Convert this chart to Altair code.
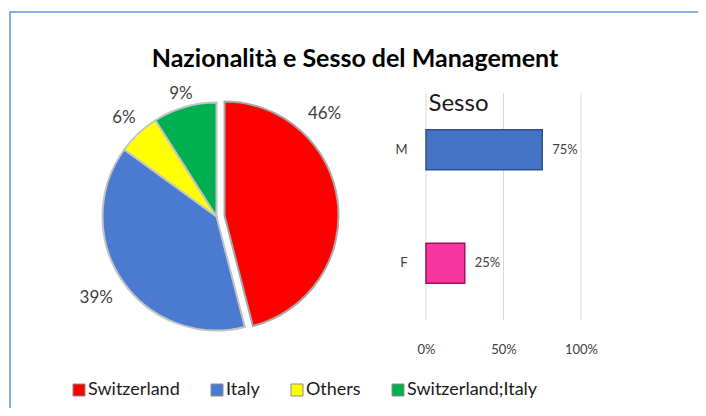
import altair as alt
import pandas as pd

# ---- data ----
nat_names = ["Switzerland", "Italy", "Others", "Switzerland;Italy"]
nat_values = [46, 39, 6, 9]
nat_colors = ["#ff0000", "#4a7bd0", "#ffff00", "#00b050"]

sex_names = ["M", "F"]
sex_values = [0.75, 0.25]
sex_colors = ["#4472c4", "#f7359e"]
sex_strokes = ["#2f528f", "#9c1060"]

x_ticks = [0, 0.5, 1.0]

title_text = "Nazionalità e Sesso del Management"
bar_title = "Sesso"

nat_df = pd.DataFrame({"country": nat_names, "value": nat_values,
                       "order": list(range(len(nat_names)))})
sex_df = pd.DataFrame({"sex": sex_names, "share": sex_values})
grid_df = pd.DataFrame({"share": x_ticks})

# ---- layout constants ----
CX, CY = 206.5, 204.5
R = 114
EXPLODE_X, EXPLODE_Y = 8, -1
FONT = "Lato"

theta_scale = alt.Scale(domain=[0, 100], range=[0, 6.283185307179586])
color_scale = alt.Scale(domain=nat_names, range=nat_colors)

base_pie = alt.Chart(nat_df).transform_window(
    end="sum(value)", sort=[alt.SortField("order")], frame=[None, 0]
).transform_calculate(
    start="datum.end - datum.value",
    mid="datum.end - datum.value / 2",
    label="format(datum.value, 'd') + '%'",
).transform_calculate(
    lab_t="datum.order == 0 ? datum.start + datum.value * 0.27 : datum.mid",
).transform_calculate(
    lab_s="sin(datum.lab_t / 100 * 2 * PI)",
    lab_c="cos(datum.lab_t / 100 * 2 * PI)",
    hw="length(datum.label) * 5 + 1",
).transform_calculate(
    lab_r="118 + abs(datum.lab_s) * datum.hw * 1.9 + abs(datum.lab_c) * 4",
)

legend = alt.Legend(
    title=None, orient="none", legendX=60, legendY=369, direction="horizontal",
    symbolType="square", symbolSize=144, symbolStrokeColor="#8c8c8c",
    symbolStrokeWidth=1, labelFontSize=18, labelFont=FONT, labelColor="#1a1a1a",
    labelOffset=0, columnPadding=28,
)

arc_enc = dict(
    theta=alt.Theta("start:Q", scale=theta_scale),
    theta2="end:Q",
    color=alt.Color("country:N", scale=color_scale, legend=legend),
)

arcs_rest = base_pie.transform_filter("datum.order != 0").mark_arc(
    radius=R, stroke="#c4c4c4", strokeWidth=2
).encode(x=alt.value(CX), y=alt.value(CY), **arc_enc)

arcs_first = base_pie.transform_filter("datum.order == 0").mark_arc(
    radius=R, stroke="#a8a8a8", strokeWidth=2
).encode(x=alt.value(CX + EXPLODE_X), y=alt.value(CY + EXPLODE_Y), **arc_enc)

lab_enc = dict(
    theta=alt.Theta("lab_t:Q", scale=theta_scale),
    radius=alt.Radius("lab_r:Q", scale=None),
    text="label:N",
)
lab_style = dict(fontSize=17, font=FONT, color="#404040", align="center", baseline="middle")

labels_rest = base_pie.transform_filter("datum.order != 0").mark_text(**lab_style).encode(
    x=alt.value(CX), y=alt.value(CY), **lab_enc)
labels_first = base_pie.transform_filter("datum.order == 0").mark_text(**lab_style).encode(
    x=alt.value(CX + EXPLODE_X), y=alt.value(CY + EXPLODE_Y), **lab_enc)

# ---- bar panel ----
x_scale = alt.Scale(domain=[0, 1], range=[416, 571], nice=False)
y_scale = alt.Scale(domain=sex_names, range=[81, 308], paddingInner=0, paddingOuter=0)

x_axis = alt.Axis(
    values=x_ticks, format="%", grid=False, domain=False, ticks=False,
    offset=-102, labelPadding=13, labelFontSize=13, labelFont=FONT,
    labelColor="#404040", labelFlush=False, title=None, orient="bottom")
y_axis = alt.Axis(
    domain=False, ticks=False, grid=False, offset=-416, labelPadding=19,
    labelFontSize=13, labelFont=FONT, labelColor="#404040",
    title=bar_title, titleAngle=0, titleX=2, titleY=98, titleAlign="left",
    titleBaseline="alphabetic", titleFontSize=24, titleFontWeight="normal",
    titleFont=FONT, titleColor="#1a1a1a", orient="left")

grid = alt.Chart(grid_df).mark_rule(color="#d9d9d9", strokeWidth=1).encode(
    x=alt.X("share:Q", scale=x_scale, axis=x_axis),
    y=alt.value(81), y2=alt.value(308),
)

bars = alt.Chart(sex_df).mark_bar(size=40, strokeWidth=1.5).encode(
    x=alt.X("share:Q", scale=x_scale, axis=x_axis),
    y=alt.Y("sex:N", sort=sex_names, scale=y_scale, axis=y_axis),
    fill=alt.Fill("sex:N", scale=alt.Scale(domain=sex_names, range=sex_colors), legend=None),
    stroke=alt.Stroke("sex:N", scale=alt.Scale(domain=sex_names, range=sex_strokes), legend=None),
)

bar_labels = alt.Chart(sex_df).transform_calculate(
    label="format(datum.share, '.0%')"
).mark_text(align="left", baseline="middle", dx=10, fontSize=13, font=FONT,
            color="#404040").encode(
    x=alt.X("share:Q", scale=x_scale, axis=x_axis),
    y=alt.Y("sex:N", sort=sex_names, scale=y_scale, axis=y_axis),
    text="label:N",
)

chart = alt.layer(
    grid, bars, bar_labels, arcs_rest, arcs_first, labels_rest, labels_first
).properties(
    width=720, height=420,
    padding={"left": 2, "top": 4, "right": -32, "bottom": -24},
    autosize=alt.AutoSizeParams(type="none"),
    title=alt.TitleParams(
        text=title_text, anchor="middle", frame="group", baseline="middle",
        offset=-72, dx=-15, fontSize=25, font=FONT, fontWeight="bold", color="#000000"),
    background="white",
).configure(font=FONT).configure_view(stroke="#5b9bd5", strokeWidth=1.5)

chart.save("out.html", embed_options={"renderer": "svg", "actions": False})
